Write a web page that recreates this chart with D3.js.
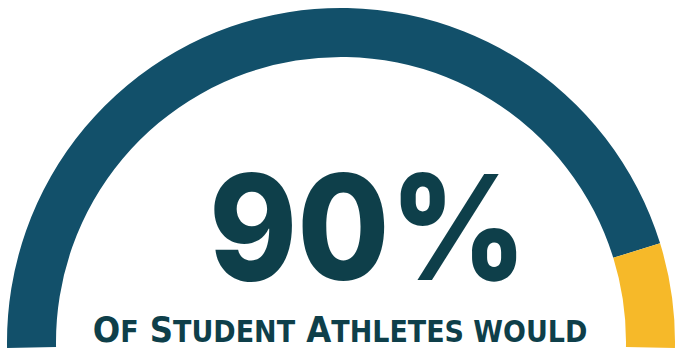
<!DOCTYPE html>
<html>
<head>
<script src="https://d3js.org/d3.v7.min.js"></script>
<style>
  body { margin: 0; background: #fff; }
  svg { display: block; }
</style>
</head>
<body>
<script>
  // gauge data
  var labels = ["Would", "Would not"];
  var shares = [90, 10];
  var colors = ["#12506a", "#f6b929"];
  var headline = "90%";
  var caption = ["Of", "Student", "Athletes", "would"];

  var width = 680, height = 348;
  var cx = 341, cy = 342, rOuter = 334, rInner = 285;
  var sweep = Math.PI / 2 + Math.asin(6 / rOuter);

  var svg = d3.select("body").append("svg")
      .attr("width", width)
      .attr("height", height);

  var angle = d3.scaleLinear().domain([0, d3.sum(shares)]).range([-sweep, sweep]);

  var pie = d3.pie()
      .sort(null)
      .startAngle(angle.range()[0])
      .endAngle(angle.range()[1]);

  var arc = d3.arc().innerRadius(rInner).outerRadius(rOuter);

  svg.append("g")
      .attr("transform", "translate(" + cx + "," + cy + ")")
    .selectAll("path")
    .data(pie(shares))
    .enter().append("path")
      .attr("d", arc)
      .attr("fill", function(d, i) { return colors[i]; })
      .append("title").text(function(d, i) { return labels[i]; });

  // big number
  svg.append("text")
      .attr("x", 368)
      .attr("y", 280)
      .attr("text-anchor", "middle")
      .attr("font-family", "Inter, Lato, sans-serif")
      .attr("font-weight", 800)
      .attr("font-size", 146)
      .attr("textLength", 318)
      .attr("lengthAdjust", "spacingAndGlyphs")
      .attr("fill", "#0e3f4a")
      .text(headline);

  // caption in small caps, built from tspans, squeezed to width with a scale
  var cap = svg.append("text")
      .attr("x", 0)
      .attr("y", 0)
      .attr("text-anchor", "middle")
      .attr("font-family", "'DejaVu Sans', sans-serif")
      .attr("font-weight", "bold")
      .attr("fill", "#0e3f4a");

  caption.forEach(function(w, i) {
    var first = w.charAt(0), rest = w.slice(1).toUpperCase();
    if (first === first.toUpperCase()) {
      cap.append("tspan").attr("font-size", 36).text((i ? " " : "") + first);
    } else {
      rest = (i ? " " : "") + w.toUpperCase();
    }
    cap.append("tspan").attr("font-size", 30).text(rest);
  });

  var k = 495 / cap.node().getComputedTextLength();
  cap.attr("transform", "translate(340,342) scale(" + k + ",1)");
</script>
</body>
</html>
